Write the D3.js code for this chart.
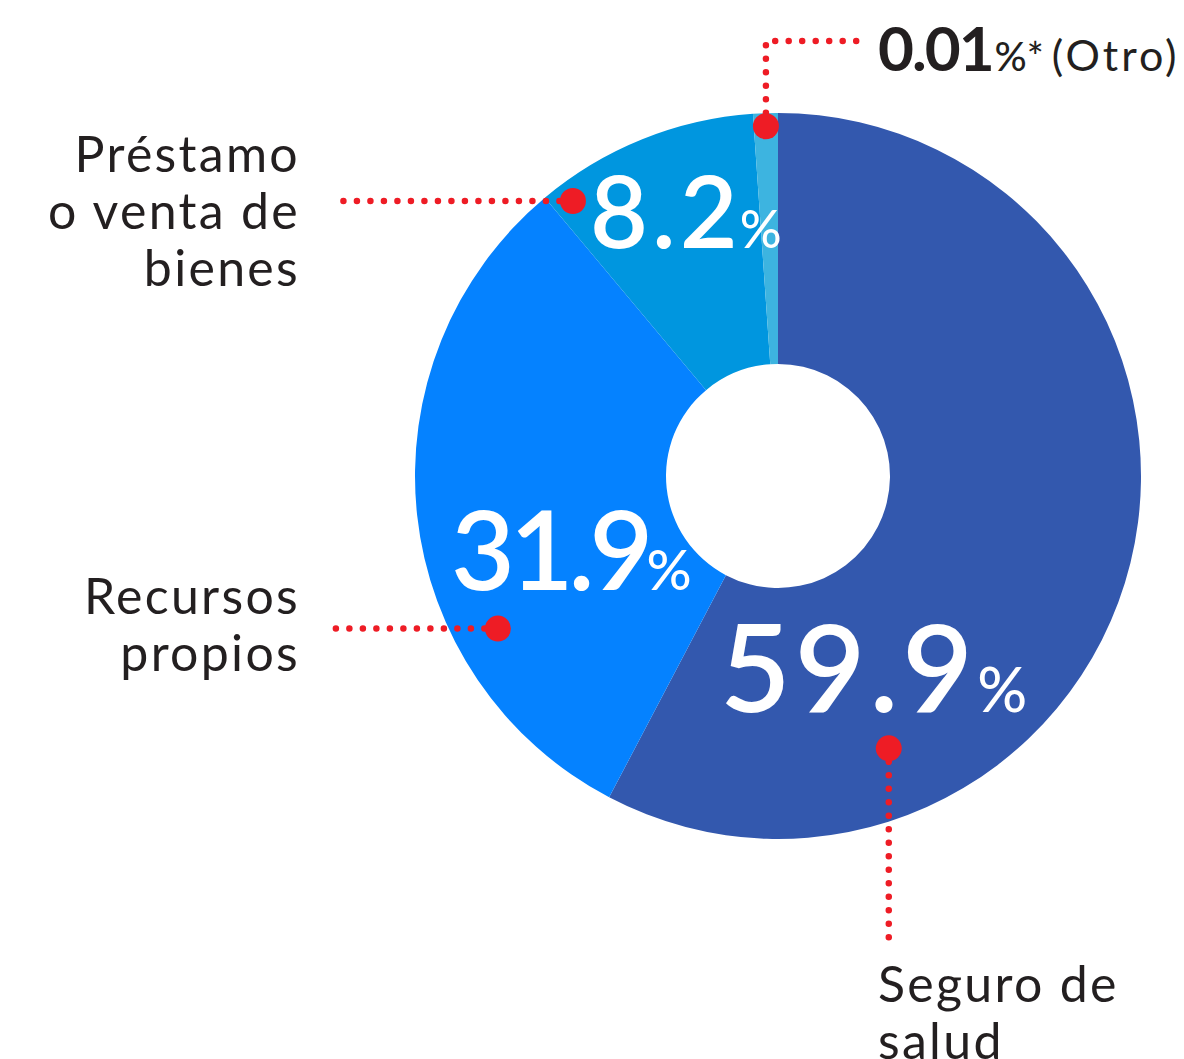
<!DOCTYPE html>
<html>
<head>
<meta charset="utf-8">
<script src="https://cdn.jsdelivr.net/npm/d3@7"></script>
<style>
  body { margin: 0; background: #fff; }
  svg { display: block; }
</style>
</head>
<body>
<svg width="1184" height="1059"></svg>
<script>
// data
var categories = ["Seguro de salud", "Recursos propios", "Préstamo o venta de bienes", "Otro"];
var shares = [57.7, 31.2, 10.0, 1.1];          // drawn share of the ring
var labels = ["59.9", "31.9", "8.2", "0.01"];   // printed figures
var colors = ["#3358AE", "#0582FF", "#0096DF", "#3DB4E0"];

var svg = d3.select("svg"),
    cx = 778, cy = 476,
    outerR = 363, innerR = 112,
    red = "#EE1C25",
    font = "Lato, 'Open Sans', sans-serif",
    g = svg.append("g").attr("transform", "translate(" + cx + "," + cy + ")");

var pie = d3.pie().sort(null).value(function (d) { return d; });
var arcs = pie(shares);

var arc = d3.arc().innerRadius(innerR).outerRadius(outerR);

g.selectAll("path.slice")
    .data(arcs)
    .enter().append("path")
    .attr("class", "slice")
    .attr("d", arc)
    .attr("fill", function (d, i) { return colors[i]; });

// point on the ring, t = position inside the slice (0..1), r = radius
function pt(i, t, r) {
    var a = arcs[i].startAngle + (arcs[i].endAngle - arcs[i].startAngle) * t;
    return [Math.sin(a) * r, -Math.cos(a) * r];
}

// leader lines: anchor inside the slice, then dotted path to the label
var leaders = [
    { i: 0, t: 0.76, r: 294, path: function (p) { return [p, [p[0], 462]]; } },
    { i: 1, t: 0.30, r: 319, path: function (p) { return [p, [-448, p[1]]]; } },
    { i: 2, t: 0.09, r: 343, path: function (p) { return [p, [-448, p[1]]]; } },
    { i: 3, t: 0.50, r: 350, path: function (p) { return [p, [p[0], -435], [80, -435]]; } }
];

var line = d3.line();
leaders.forEach(function (l) {
    var p = pt(l.i, l.t, l.r);
    g.append("path")
        .attr("d", line(l.path(p)))
        .attr("fill", "none")
        .attr("stroke", red)
        .attr("stroke-width", 6.5)
        .attr("stroke-linecap", "round")
        .attr("stroke-dasharray", "0 13.5");
    g.append("circle")
        .attr("cx", p[0]).attr("cy", p[1])
        .attr("r", 13)
        .attr("fill", red);
});

// big white figures in the slices
var figures = [
    { i: 0, x: -58, y: 236, size: 122, ls: 4, pct: 62, dx: 0 },
    { i: 1, x: -327, y: 114, size: 110, ls: -5, pct: 56, dx: -2 },
    { i: 2, x: -188, y: -228, size: 100, ls: 4, pct: 52, dx: -2 }
];
figures.forEach(function (f) {
    var t = g.append("text")
        .attr("x", f.x).attr("y", f.y)
        .attr("fill", "#fff")
        .attr("font-family", font)
        .attr("font-weight", 600)
        .attr("font-size", f.size)
        .attr("letter-spacing", f.ls);
    t.append("tspan").text(labels[f.i]);
    t.append("tspan").attr("font-size", f.pct).attr("font-weight", 500).attr("dx", f.dx).attr("letter-spacing", 0).text("%");
});

// "Otro" figure
var otro = svg.append("text")
    .attr("x", 878).attr("y", 71)
    .attr("fill", "#231F20")
    .attr("font-family", font);
otro.append("tspan").attr("font-size", 62).attr("font-weight", 700).attr("letter-spacing", -2).text(labels[3]);
otro.append("tspan").attr("font-size", 40).attr("font-weight", 500).attr("dx", 2).text("%*");
otro.append("tspan").attr("font-size", 43).attr("font-weight", 400).attr("dx", 8).attr("letter-spacing", 3).text("(" + categories[3] + ")");

// category names
var names = [
    { lines: ["Seguro de", "salud"], x: 878, y: 1002, anchor: "start" },
    { lines: ["Recursos", "propios"], x: 300, y: 614, anchor: "end" },
    { lines: ["Préstamo", "o venta de", "bienes"], x: 300, y: 172, anchor: "end" }
];
names.forEach(function (n) {
    var t = svg.append("text")
        .attr("x", n.x).attr("y", n.y)
        .attr("text-anchor", n.anchor)
        .attr("fill", "#231F20")
        .attr("font-family", font)
        .attr("font-size", 50)
        .attr("letter-spacing", 2.3);
    n.lines.forEach(function (s, k) {
        t.append("tspan").attr("x", n.x).attr("dy", k ? 57 : 0).text(s);
    });
});
</script>
</body>
</html>
